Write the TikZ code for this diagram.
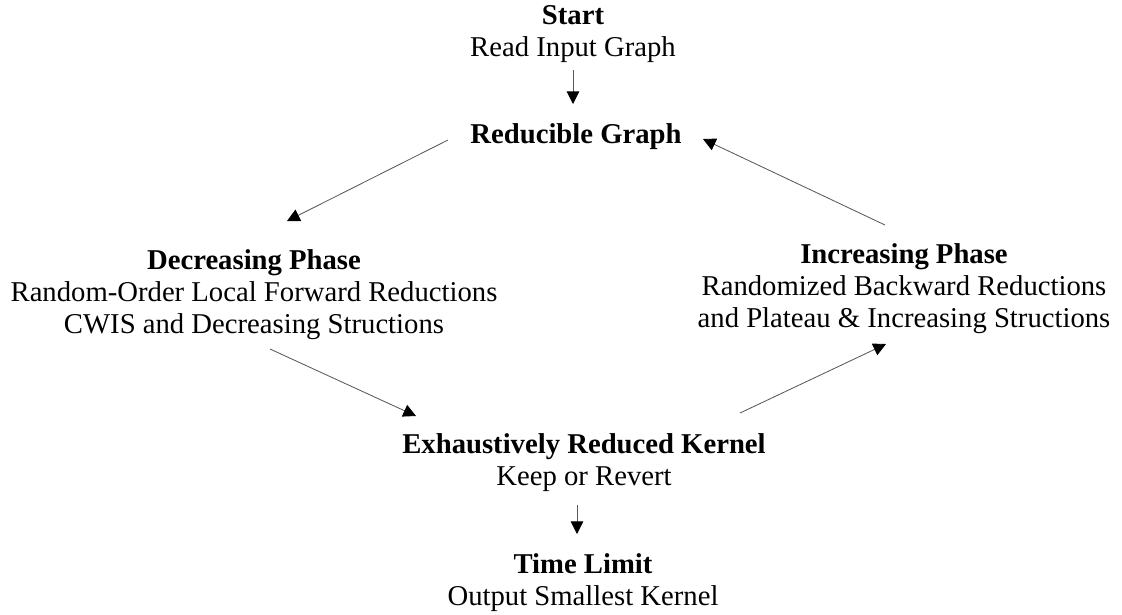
\documentclass[tikz,border=0pt]{standalone}
\usepackage{fontspec}
\setmainfont{Liberation Serif}
\usepackage{tikz}
\usetikzlibrary{arrows.meta, positioning, calc}

\begin{document}
\begin{tikzpicture}[
  x=0.025cm, y=-0.025cm,
  stage/.style={inner sep=0pt, align=center,
                font=\fontsize{20.4}{22.8}\selectfont},
  arr/.style={-{Triangle[length=9pt, width=9pt, black]},
              line width=0.6pt, gray!70!black},
]
\useasboundingbox (0,0) rectangle (1122,614);

% Start
\node[stage] (start) at (573, 34) {\textbf{Start}\\Read Input Graph};
\node[stage] (reducible) at (576, 137) {\textbf{Reducible Graph}};

% Phases
\node[stage] (decphase) at (254, 295)
  {\textbf{Decreasing Phase}\\Random-Order Local Forward Reductions\\CWIS and Decreasing Structions};
\node[stage] (incphase) at (904, 289)
  {\textbf{Increasing Phase}\\Randomized Backward Reductions\\and Plateau \& Increasing Structions};

% Kernel and end
\node[stage] (kernel) at (584, 463) {\textbf{Exhaustively Reduced Kernel}\\Keep or Revert};
\node[stage] (timelimit) at (583, 583) {\textbf{Time Limit}\\Output Smallest Kernel};

% Edges
\draw[arr] ([shift={(0,36)}]start.center) -- ([shift={(-3,-33)}]reducible.center);
\draw[arr] ([shift={(-128,3)}]reducible.center) -- ([shift={(33,-74)}]decphase.center);
\draw[arr] ([shift={(16,54)}]decphase.center) -- ([shift={(-168,-47)}]kernel.center);
\draw[arr] ([shift={(156,-50)}]kernel.center) -- ([shift={(-18,55)}]incphase.center);
\draw[arr] ([shift={(-19,-64)}]incphase.center) -- ([shift={(127,2)}]reducible.center);
\draw[arr] ([shift={(-7,42)}]kernel.center) -- ([shift={(-6,-49)}]timelimit.center);
\end{tikzpicture}
\end{document}
